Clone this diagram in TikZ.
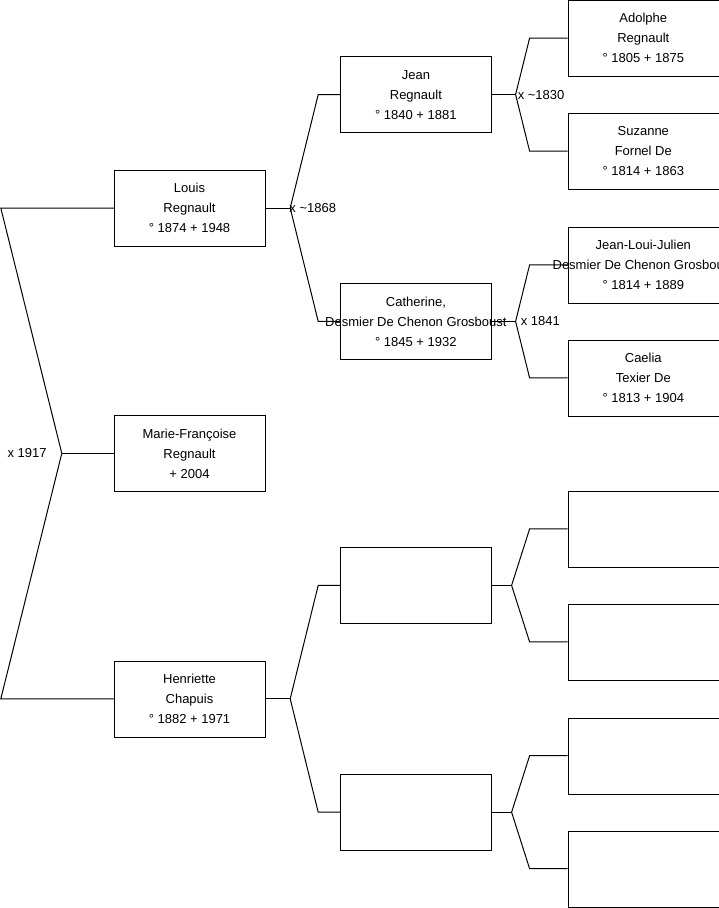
\documentclass[tikz,border=0pt]{standalone}
\usepackage{fontspec}
\setmainfont{Liberation Sans}
\usepackage{tikz}
\usetikzlibrary{positioning}

\begin{document}
\begin{tikzpicture}[
    x=1pt, y=1pt,
    box/.style={draw, minimum width=151pt, minimum height=76pt, inner sep=0pt, align=center, font=\fontsize{13}{20}\selectfont},
    link/.style={draw, line width=1pt},
    datelabel/.style={inner sep=0pt, font=\fontsize{13}{20}\selectfont}
]
    \useasboundingbox (0,0) rectangle (719,-908);

    % generation 1
    \node[box] (louis) at (189.5,-208) {Louis\\Regnault\\° 1874 + 1948};
    \node[box, below=169pt of louis] (marie) {Marie-Françoise\\Regnault\\+ 2004};
    \node[box, below=169pt of marie] (henriette) {Henriette\\Chapuis\\° 1882 + 1971};

    % generation 2
    \node[box, above right=37pt and 75pt of louis] (jean) {Jean\\Regnault\\° 1840 + 1881};
    \node[box, below right=37pt and 75pt of louis] (catherine) {Catherine,\\\makebox[0pt]{Desmier De Chenon Grosboust}\\° 1845 + 1932};
    \node[box, above right=37pt and 75pt of henriette] (hfather) {};
    \node[box, below right=37pt and 75pt of henriette] (hmother) {};

    % generation 3
    \node[box, right=76pt of jean, yshift=56.5pt] (adolphe) {Adolphe\\Regnault\\° 1805 + 1875};
    \node[box, right=76pt of jean, yshift=-56.5pt] (suzanne) {Suzanne\\Fornel De\\° 1814 + 1863};
    \node[box, right=76pt of catherine, yshift=56.5pt] (jeanloui) {Jean-Loui-Julien\\\makebox[0pt]{Desmier De Chenon Grosboust}\\° 1814 + 1889};
    \node[box, right=76pt of catherine, yshift=-56.5pt] (caelia) {Caelia\\Texier De\\° 1813 + 1904};
    \node[box, right=76pt of hfather, yshift=56.5pt] (hff) {};
    \node[box, right=76pt of hfather, yshift=-56.5pt] (hfm) {};
    \node[box, right=76pt of hmother, yshift=56.5pt] (hmf) {};
    \node[box, right=76pt of hmother, yshift=-56.5pt] (hmm) {};

    % marriage forks
    \coordinate (xroot) at ([xshift=-52pt]marie.west);
    \coordinate (xlouis) at ([xshift=25pt]louis.east);
    \coordinate (xhenr) at ([xshift=25pt]henriette.east);
    \coordinate (xjean) at ([xshift=24pt]jean.east);
    \coordinate (xcath) at ([xshift=24pt]catherine.east);
    \coordinate (xhf) at ([xshift=20pt]hfather.east);
    \coordinate (xhm) at ([xshift=20pt]hmother.east);

    \draw[link] (marie.west) -- (xroot);
    \draw[link] (xroot) -- ([xshift=-113pt]louis.west) -- (louis.west);
    \draw[link] (xroot) -- ([xshift=-113pt]henriette.west) -- (henriette.west);

    \draw[link] (louis.east) -- (xlouis);
    \draw[link] (xlouis) -- ([xshift=-22pt]jean.west) -- (jean.west);
    \draw[link] (xlouis) -- ([xshift=-22pt]catherine.west) -- (catherine.west);

    \draw[link] (henriette.east) -- (xhenr);
    \draw[link] (xhenr) -- ([xshift=-22pt]hfather.west) -- (hfather.west);
    \draw[link] (xhenr) -- ([xshift=-22pt]hmother.west) -- (hmother.west);

    \draw[link] (jean.east) -- (xjean);
    \draw[link] (xjean) -- ([xshift=-38pt]adolphe.west) -- (adolphe.west);
    \draw[link] (xjean) -- ([xshift=-38pt]suzanne.west) -- (suzanne.west);

    \draw[link] (catherine.east) -- (xcath);
    \draw[link] (xcath) -- ([xshift=-38pt]jeanloui.west) -- (jeanloui.west);
    \draw[link] (xcath) -- ([xshift=-38pt]caelia.west) -- (caelia.west);

    \draw[link] (hfather.east) -- (xhf);
    \draw[link] (xhf) -- ([xshift=-38pt]hff.west) -- (hff.west);
    \draw[link] (xhf) -- ([xshift=-38pt]hfm.west) -- (hfm.west);

    \draw[link] (hmother.east) -- (xhm);
    \draw[link] (xhm) -- ([xshift=-38pt]hmf.west) -- (hmf.west);
    \draw[link] (xhm) -- ([xshift=-38pt]hmm.west) -- (hmm.west);

    % marriage dates
    \node[datelabel, anchor=east, xshift=-15pt] (mroot) at (xroot) {x 1917};
    \node[datelabel, anchor=west, xshift=-1pt] (mlouis) at (xlouis) {x \textasciitilde1868};
    \node[datelabel, anchor=west, xshift=2pt] (mjean) at (xjean) {x \textasciitilde1830};
    \node[datelabel, anchor=west, xshift=5pt] (mcath) at (xcath) {x 1841};
\end{tikzpicture}
\end{document}
